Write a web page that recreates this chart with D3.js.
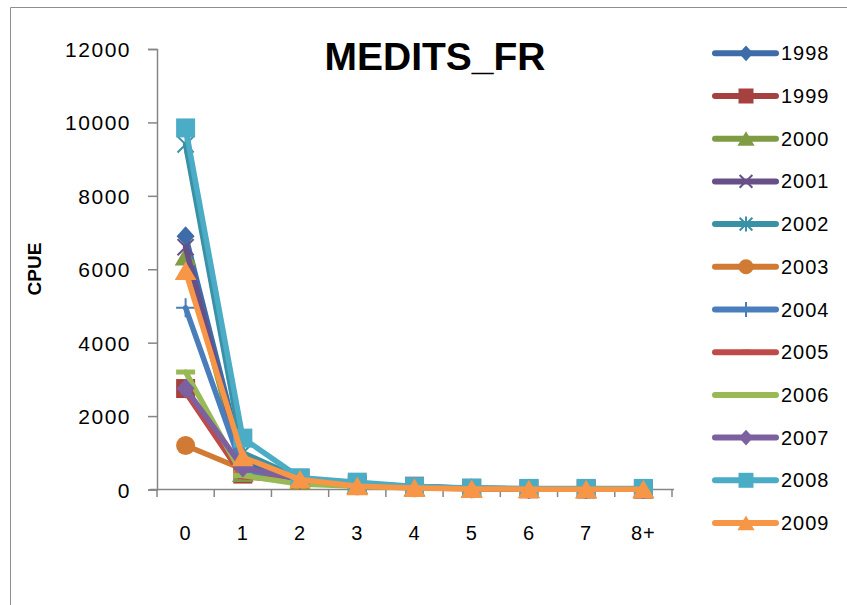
<!DOCTYPE html>
<html><head><meta charset="utf-8">
<script src="https://cdn.jsdelivr.net/npm/d3@7"></script>
<style>html,body{margin:0;padding:0;background:#fff;}svg{display:block;}</style>
</head><body>
<script>
const categories = ["0","1","2","3","4","5","6","7","8+"];
const years = ["1998","1999","2000","2001","2002","2003","2004","2005","2006","2007","2008","2009"];
const yTicks = [0,2000,4000,6000,8000,10000,12000];
const s1998 = [6900, 750, 280, 160, 70, 30, 20, 15, 10];
const s1999 = [2750, 420, 300, 130, 90, 30, 20, 15, 10];
const s2000 = [6350, 450, 230, 120, 60, 25, 15, 10, 5];
const s2001 = [6600, 550, 250, 140, 70, 30, 20, 15, 10];
const s2002 = [9400, 1000, 300, 150, 80, 30, 20, 15, 10];
const s2003 = [1200, 550, 250, 100, 50, 20, 15, 10, 5];
const s2004 = [4950, 550, 250, 120, 60, 25, 15, 10, 5];
const s2005 = [2650, 350, 220, 110, 60, 25, 15, 10, 5];
const s2006 = [3200, 380, 150, 90, 50, 20, 15, 10, 5];
const s2007 = [2750, 600, 280, 140, 70, 30, 20, 15, 10];
const s2008 = [9850, 1400, 320, 200, 80, 40, 30, 30, 30];
const s2009 = [5950, 880, 270, 90, 40, 15, 10, 10, 5];
const seriesValues = [s1998,s1999,s2000,s2001,s2002,s2003,s2004,s2005,s2006,s2007,s2008,s2009];
const colors = ["#3D6CA8","#A5423F","#7F9C45","#674F87","#3A91A6","#D07A33","#4A7EBB","#BE4B48","#98B954","#7D60A0","#4BACC6","#F79646"];
const markers = ["diamond","square","triangle","x","star","circle","plus","dash","longdash","diamond","square","triangle"];

const W=847,H=605;
const svg=d3.select("body").append("svg").attr("width",W).attr("height",H);
const font="'Liberation Sans', Arial, sans-serif";

// chart border (extends past the frame)
svg.append("path").attr("d","M10.5,605 L10.5,7.5 L847,7.5").attr("fill","none").attr("stroke","#8E8E8E").attr("stroke-width",1);

const x=d3.scaleBand().domain(categories).range([157,672]).padding(0);
const y=d3.scaleLinear().domain([0,12000]).range([489.5,49]);

// axes
const axisColor="#868686";
const gy=svg.append("g").attr("transform","translate(157,0)")
  .call(d3.axisLeft(y).tickValues(yTicks).tickSize(9).tickPadding(17).tickFormat(d3.format("d")));
gy.select(".domain").attr("stroke",axisColor).attr("stroke-width",1.5);
gy.selectAll(".tick line").attr("stroke",axisColor).attr("stroke-width",1.5);
gy.selectAll(".tick text").attr("font-family",font).attr("font-size",21).attr("fill","#000")
  .attr("letter-spacing","1.5px").attr("dy","0.36em");

const gx=svg.append("g").attr("transform","translate(0,489.5)")
  .call(d3.axisBottom(x).tickSize(0).tickPadding(36));
gx.select(".domain").attr("stroke",axisColor).attr("stroke-width",1.5).attr("d","M150,0H674");
gx.selectAll(".tick text").attr("font-family",font).attr("font-size",20).attr("fill","#000").attr("letter-spacing","1px");
// tick marks at category boundaries
const bounds=categories.map(c=>x(c)).concat([x(categories[categories.length-1])+x.bandwidth()]);
svg.append("g").selectAll("line").data(bounds).join("line")
  .attr("x1",d=>d).attr("x2",d=>d).attr("y1",489.5).attr("y2",497)
  .attr("stroke",axisColor).attr("stroke-width",1.5);

// title
svg.append("text").attr("x",435).attr("y",70).attr("text-anchor","middle")
  .attr("font-family",font).attr("font-weight","bold").attr("font-size",39).text("MEDITS_FR");
// y label
svg.append("text").attr("transform","translate(41,269) rotate(-90)").attr("text-anchor","middle")
  .attr("font-family",font).attr("font-weight","bold").attr("font-size",19).text("CPUE");

function markerPath(type,s){
  const h=s/2;
  switch(type){
    case "diamond": return `M0,${-h*1.05}L${h*0.95},0L0,${h*1.05}L${-h*0.95},0Z`;
    case "square": return `M${-h},${-h}H${h}V${h}H${-h}Z`;
    case "triangle": return `M0,${-h*1.0}L${h*1.15},${h*0.95}L${-h*1.15},${h*0.95}Z`;
    case "circle": return d3.arc()({innerRadius:0,outerRadius:h,startAngle:0,endAngle:2*Math.PI});
    case "x": {const a=h*0.85;return `M${-a},${-a}L${a},${a}M${a},${-a}L${-a},${a}`;}
    case "star": {const a=h*0.85;return `M${-a},${-a}L${a},${a}M${a},${-a}L${-a},${a}M0,${-h}V${h}`;}
    case "plus": return `M${-h},0H${h}M0,${-h}V${h}`;
    case "dash": return `M${-h*0.55},-2.5H${h*0.55}V2.5H${-h*0.55}Z`;
    case "longdash": return `M${-h},-2.5H${h}V2.5H${-h}Z`;
  }
}
const isStroke=t=>t==="x"||t==="star"||t==="plus";

const line=d3.line().x((d,i)=>x(categories[i])+x.bandwidth()/2).y(d=>y(d));
years.forEach((yr,k)=>{
  const vals=seriesValues[k];
  const g=svg.append("g");
  g.append("path").attr("d",line(vals)).attr("fill","none").attr("stroke",colors[k])
    .attr("stroke-width",5.5).attr("stroke-linejoin","round").attr("stroke-linecap","round");
  g.selectAll("path.m").data(vals).join("path").attr("class","m")
    .attr("transform",(d,i)=>`translate(${x(categories[i])+x.bandwidth()/2},${y(d)})`)
    .attr("d",markerPath(markers[k],19))
    .attr("fill",isStroke(markers[k])?"none":colors[k])
    .attr("stroke",isStroke(markers[k])?colors[k]:"none")
    .attr("stroke-width",2);
});

// legend
const lg=svg.append("g");
years.forEach((yr,k)=>{
  const cy=53.3+k*42.7;
  lg.append("line").attr("x1",715).attr("x2",776).attr("y1",cy).attr("y2",cy)
    .attr("stroke",colors[k]).attr("stroke-width",6).attr("stroke-linecap","round");
  lg.append("path").attr("transform",`translate(746,${cy})`).attr("d",markerPath(markers[k],15))
    .attr("fill",isStroke(markers[k])?"none":colors[k])
    .attr("stroke",isStroke(markers[k])?colors[k]:"none").attr("stroke-width",2);
  lg.append("text").attr("x",781).attr("y",cy+7).attr("font-family",font).attr("font-size",20)
    .attr("letter-spacing","1px").text(yr);
});
</script>
</body></html>
